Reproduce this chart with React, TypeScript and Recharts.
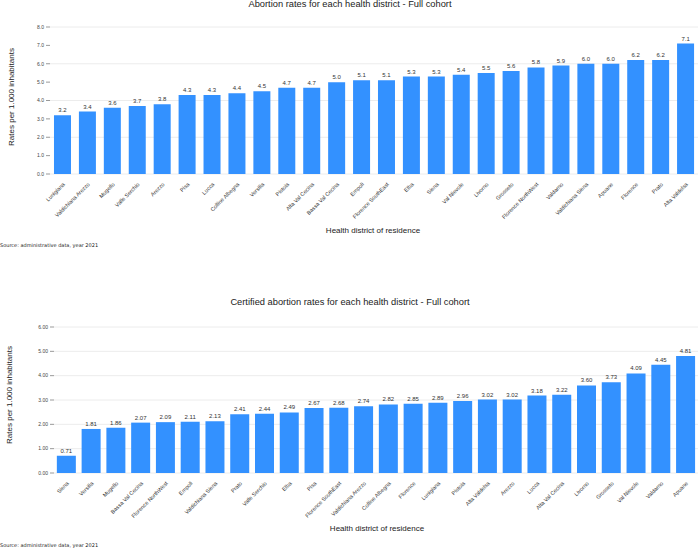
import { Bar, BarChart, CartesianGrid, LabelList, XAxis, YAxis } from "recharts"

const fullDistricts = [
  "Lunigiana", "Valdichiana Arezzo", "Mugello", "Valle Serchio", "Arezzo", "Pisa", "Lucca",
  "Colline Albegna", "Versilia", "Pistoia", "Alta Val Cecina", "Bassa Val Cecina", "Empoli",
  "Florence SouthEast", "Elba", "Siena", "Val Nievole", "Livorno", "Grosseto",
  "Florence NorthWest", "Valdarno", "Valdichiana Siena", "Apuane", "Florence", "Prato",
  "Alta Valdelsa",
]
const fullRates = [
  3.2, 3.4, 3.6, 3.7, 3.8, 4.3, 4.3, 4.4, 4.5, 4.7, 4.7, 5.0, 5.1, 5.1, 5.3, 5.3, 5.4, 5.5,
  5.6, 5.8, 5.9, 6.0, 6.0, 6.2, 6.2, 7.1,
]
const fullTicks = [0, 1, 2, 3, 4, 5, 6, 7, 8]

const certDistricts = [
  "Siena", "Versilia", "Mugello", "Bassa Val Cecina", "Florence NorthWest", "Empoli",
  "Valdichiana Siena", "Prato", "Valle Serchio", "Elba", "Pisa", "Florence SouthEast",
  "Valdichiana Arezzo", "Colline Albegna", "Florence", "Lunigiana", "Pistoia", "Alta Valdelsa",
  "Arezzo", "Lucca", "Alta Val Cecina", "Livorno", "Grosseto", "Val Nievole", "Valdarno",
  "Apuane",
]
const certRates = [
  0.71, 1.81, 1.86, 2.07, 2.09, 2.11, 2.13, 2.41, 2.44, 2.49, 2.67, 2.68, 2.74, 2.82, 2.85,
  2.89, 2.96, 3.02, 3.02, 3.18, 3.22, 3.6, 3.73, 4.09, 4.45, 4.81,
]
const certTicks = [0, 1, 2, 3, 4, 5, 6]

const BLUE = "#3391ff"
const FONT = "'Liberation Sans', Arial, sans-serif"

const fullData = fullDistricts.map((name, i) => ({ name, value: fullRates[i] }))
const certData = certDistricts.map((name, i) => ({ name, value: certRates[i] }))

function Text({ top, left, size, children, center, family }: any) {
  return (
    <div
      style={{
        position: "absolute",
        top,
        left,
        fontSize: size,
        fontFamily: family ?? FONT,
        color: "#222",
        whiteSpace: "nowrap",
        transform: center ? "translate(-50%, -50%)" : "translateY(-50%)",
        lineHeight: 1,
      }}
    >
      {children}
    </div>
  )
}

function YLabel({ top, left }: any) {
  return (
    <div
      style={{
        position: "absolute",
        top,
        left,
        fontSize: 8,
        fontFamily: FONT,
        color: "#222",
        whiteSpace: "nowrap",
        transform: "translate(-50%, -50%) rotate(-90deg)",
        lineHeight: 1,
      }}
    >
      Rates per 1.000 inhabitants
    </div>
  )
}

function RateChart({ data, ticks, digits, top, height, marginTop, yWidth, xHeight, gap }: any) {
  return (
    <div style={{ position: "absolute", top, left: 0 }}>
      <BarChart
        width={700}
        height={height}
        data={data}
        margin={{ top: marginTop, right: 2, left: 0, bottom: 0 }}
        barCategoryGap={gap}
      >
        <CartesianGrid vertical={false} stroke="#ececec" />
        <XAxis
          dataKey="name"
          interval={0}
          angle={-45}
          textAnchor="end"
          height={xHeight}
          axisLine={false}
          tickLine={false}
          tick={{ fontSize: 5.5, fill: "#333", fontFamily: FONT }}
        />
        <YAxis
          domain={[0, ticks[ticks.length - 1]]}
          ticks={ticks}
          width={yWidth}
          axisLine={false}
          tickLine={{ stroke: "#999" }}
          tickSize={4}
          tickFormatter={(v) => Number(v).toFixed(digits)}
          tick={{ fontSize: 5, fill: "#444", fontFamily: FONT }}
        />
        <Bar dataKey="value" fill={BLUE} isAnimationActive={false}>
          <LabelList
            dataKey="value"
            position="top"
            offset={3}
            formatter={(v: any) => Number(v).toFixed(digits)}
            style={{ fontSize: 6, fill: "#333", fontFamily: FONT }}
          />
        </Bar>
      </BarChart>
    </div>
  )
}

export default function App() {
  return (
    <div style={{ position: "absolute", top: 0, left: 0, width: 700, height: 549, background: "#fff" }}>
      <RateChart
        data={fullData}
        ticks={fullTicks}
        digits={1}
        top={0}
        height={240}
        marginTop={27}
        yWidth={50}
        xHeight={66}
        gap="16%"
      />
      <Text top={5} left={350} size={9.3} center>
        Abortion rates for each health district - Full cohort
      </Text>
      <YLabel top={97} left={12} />
      <Text top={231} left={373} size={8} center>
        Health district of residence
      </Text>
      <Text top={245} left={0} size={5} family="'DejaVu Sans', Verdana, sans-serif">
        Source: administrative data, year 2021
      </Text>

      <RateChart
        data={certData}
        ticks={certTicks}
        digits={2}
        top={260}
        height={280}
        marginTop={67}
        yWidth={54}
        xHeight={67}
        gap="11.5%"
      />
      <Text top={303} left={350} size={9.3} center>
        Certified abortion rates for each health district - Full cohort
      </Text>
      <YLabel top={395} left={10} />
      <Text top={529} left={377} size={8} center>
        Health district of residence
      </Text>
      <Text top={545} left={0} size={5} family="'DejaVu Sans', Verdana, sans-serif">
        Source: administrative data, year 2021
      </Text>
    </div>
  )
}
